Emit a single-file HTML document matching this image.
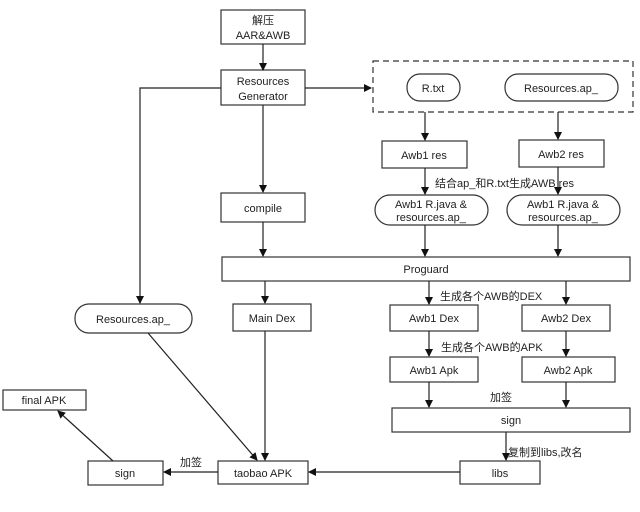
<!DOCTYPE html>
<html><head><meta charset="utf-8"><style>
body{margin:0;background:#fff;}
text{font-family:"Liberation Sans","Noto Sans CJK SC",sans-serif;font-size:11px;fill:#222;}
</style></head><body>
<svg width="640" height="507" viewBox="0 0 640 507" xmlns="http://www.w3.org/2000/svg">
<defs><marker id="a" markerWidth="8" markerHeight="8" refX="7" refY="4" orient="auto" markerUnits="userSpaceOnUse"><path d="M0,0 L8,4 L0,8 z" fill="#111"/></marker></defs>
<g fill="#fff" stroke="#333" stroke-width="1.2">
<rect x="221" y="10" width="84" height="34"/>
<rect x="221" y="70" width="84" height="35"/>
<rect x="373" y="61" width="260" height="51" stroke-dasharray="6,4"/>
<rect x="407" y="74" width="53" height="27" rx="13"/>
<rect x="505" y="74" width="113" height="27" rx="13"/>
<rect x="382" y="141" width="85" height="27"/>
<rect x="519" y="140" width="85" height="27"/>
<rect x="375" y="195" width="113" height="30" rx="15"/>
<rect x="507" y="195" width="113" height="30" rx="15"/>
<rect x="221" y="193" width="84" height="29"/>
<rect x="222" y="257" width="408" height="24"/>
<rect x="75" y="304" width="117" height="29" rx="14"/>
<rect x="233" y="304" width="78" height="27"/>
<rect x="390" y="305" width="88" height="26"/>
<rect x="522" y="305" width="88" height="26"/>
<rect x="390" y="357" width="88" height="25"/>
<rect x="522" y="357" width="93" height="25"/>
<rect x="392" y="408" width="238" height="24"/>
<rect x="460" y="461" width="80" height="23"/>
<rect x="218" y="461" width="90" height="23"/>
<rect x="88" y="461" width="75" height="24"/>
<rect x="3" y="390" width="83" height="20"/>
</g>
<g stroke="#222" stroke-width="1.2" fill="none" marker-end="url(#a)">
<line x1="263" y1="44" x2="263" y2="70"/>
<line x1="305" y1="88" x2="371" y2="88"/>
<polyline points="221,88 140,88 140,303"/>
<line x1="263" y1="105" x2="263" y2="192"/>
<line x1="263" y1="222" x2="263" y2="256"/>
<line x1="425" y1="112" x2="425" y2="140"/>
<line x1="425" y1="168" x2="425" y2="194"/>
<line x1="425" y1="225" x2="425" y2="256"/>
<line x1="558" y1="112" x2="558" y2="139"/>
<line x1="558" y1="167" x2="558" y2="194"/>
<line x1="558" y1="225" x2="558" y2="256"/>
<line x1="265" y1="281" x2="265" y2="303"/>
<line x1="429" y1="281" x2="429" y2="304"/>
<line x1="566" y1="281" x2="566" y2="304"/>
<line x1="429" y1="331" x2="429" y2="356"/>
<line x1="566" y1="331" x2="566" y2="356"/>
<line x1="429" y1="382" x2="429" y2="407"/>
<line x1="566" y1="382" x2="566" y2="407"/>
<line x1="506" y1="432" x2="506" y2="460"/>
<line x1="265" y1="331" x2="265" y2="460"/>
<line x1="148" y1="333" x2="257" y2="460"/>
<line x1="460" y1="472" x2="309" y2="472"/>
<line x1="218" y1="472" x2="164" y2="472"/>
<line x1="113" y1="461" x2="58" y2="411"/>
</g>
<g text-anchor="middle">
<text x="263" y="24">解压</text>
<text x="263" y="39">AAR&amp;AWB</text>
<text x="263" y="85">Resources</text>
<text x="263" y="100">Generator</text>
<text x="433" y="92">R.txt</text>
<text x="561" y="92">Resources.ap_</text>
<text x="424" y="159">Awb1 res</text>
<text x="561" y="158">Awb2 res</text>
<text x="431" y="208">Awb1 R.java &amp;</text>
<text x="431" y="221">resources.ap_</text>
<text x="563" y="208">Awb1 R.java &amp;</text>
<text x="563" y="221">resources.ap_</text>
<text x="263" y="212">compile</text>
<text x="426" y="273">Proguard</text>
<text x="133" y="323">Resources.ap_</text>
<text x="272" y="322">Main Dex</text>
<text x="434" y="322">Awb1 Dex</text>
<text x="566" y="322">Awb2 Dex</text>
<text x="434" y="374">Awb1 Apk</text>
<text x="568" y="374">Awb2 Apk</text>
<text x="511" y="424">sign</text>
<text x="500" y="477">libs</text>
<text x="263" y="477">taobao APK</text>
<text x="125" y="477">sign</text>
<text x="44" y="404">final APK</text>
</g>
<text x="435" y="187">结合ap_和R.txt生成AWB res</text>
<text x="440" y="300">生成各个AWB的DEX</text>
<text x="441" y="351">生成各个AWB的APK</text>
<text x="490" y="401">加签</text>
<text x="508" y="456">复制到libs,改名</text>
<text x="180" y="466">加签</text>
</svg>
</body></html>
